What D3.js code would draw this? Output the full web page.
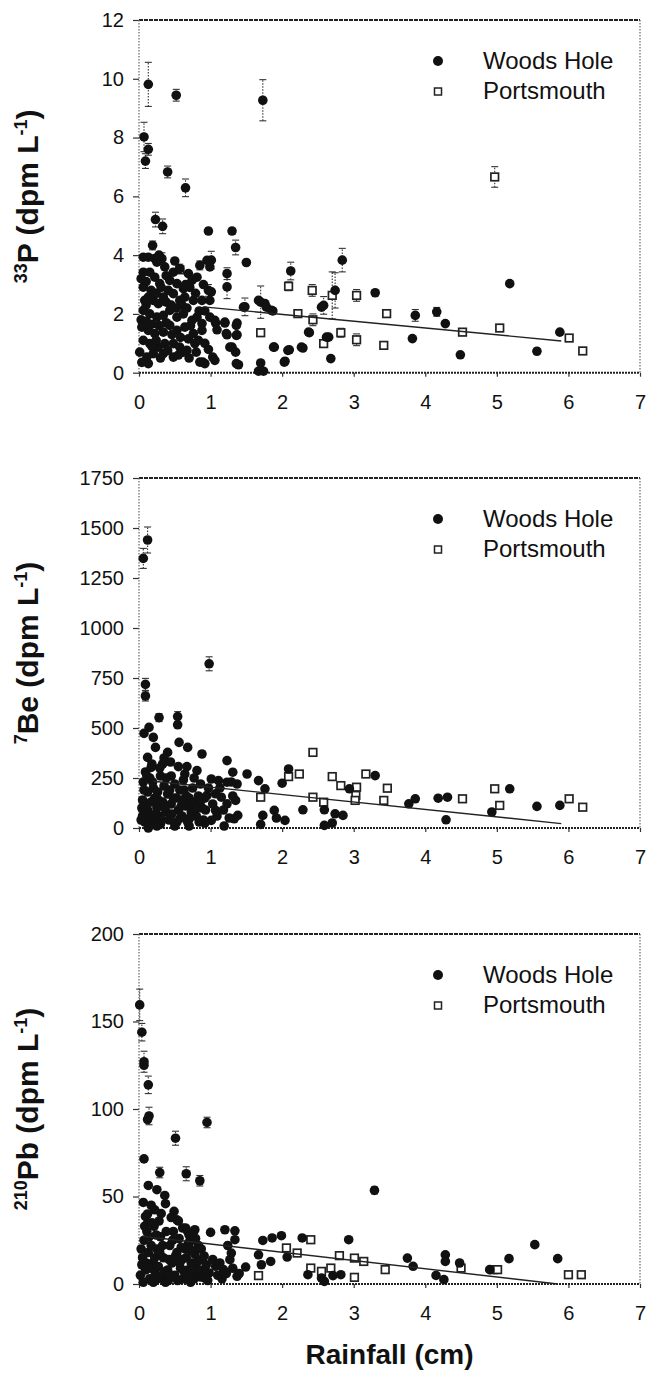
<!DOCTYPE html>
<html>
<head>
<meta charset="utf-8">
<script src="https://cdn.jsdelivr.net/npm/d3@7"></script>
<style>
  body { margin: 0; background: #fff; }
  svg { display: block; }
  text { font-family: "Liberation Sans", Arial, Helvetica, sans-serif; fill: #111; }
</style>
</head>
<body>
<svg id="chart" width="646" height="1373"></svg>
<script>
// ---- shared x axis -------------------------------------------------------
const rainfallTicks = [0, 1, 2, 3, 4, 5, 6, 7];

// ---- 33P: [rainfall cm, activity dpm/L, error] ----------------------------
const p33Ticks = [0, 2, 4, 6, 8, 10, 12];
const p33Woods = [
  [0.13,9.81,0.75],[0.52,9.44,0.2],[1.73,9.27,0.7],[0.07,8.02,0.5],[0.13,7.6,0.2],[0.09,7.2,0.25],
  [0.40,6.83,0.2],[0.65,6.29,0.3],[0.23,5.21,0.25],[0.33,4.98,0.25],[0.97,4.82,0.1],[1.30,4.82,0.1],
  [1.35,4.26,0.25],[1.50,3.75,0],[1.01,3.83,0.3],[1.23,3.37,0.2],[1.23,2.92,0.4],[2.12,3.46,0.3],
  [2.84,3.83,0.4],[3.30,2.72,0],[5.18,3.03,0],[2.74,2.80,0.6],[2.58,2.29,0.3],[3.86,1.95,0.2],
  [4.16,2.07,0.15],[4.28,1.67,0],[3.82,1.16,0],[4.49,0.61,0],[5.56,0.73,0],[5.88,1.38,0],
  [1.48,2.24,0.3],[1.70,2.40,0.55],[1.76,2.35,0],[1.87,2.10,0],[1.89,0.87,0],[2.10,0.78,0],
  [2.04,0.39,0],[2.29,0.84,0],[2.38,1.36,0],[2.65,1.21,0],[2.68,0.48,0],[1.70,0.33,0],
  [1.67,0.05,0],[1.74,0.05,0],[1.39,0.27,0],[1.35,0.70,0],[1.30,0.87,0],[1.37,1.29,0],
  [1.37,1.69,0],[1.23,1.29,0],[1.20,1.69,0],[1.07,1.69,0],[1.09,1.46,0],[1.03,0.53,0],
  [1.06,0.42,0],[0.97,0.79,0],[0.89,0.36,0],[1.01,2.75,0],
  [0.19,4.33,0.15],[0.06,3.93,0],[0.13,3.93,0],[0.22,3.88,0],[0.32,3.88,0.2],[0.25,3.76,0],
  [0.06,3.42,0],[0.15,3.42,0],[0.22,3.25,0],[0.29,3.03,0],[0.48,3.42,0],[0.57,3.54,0.15],
  [0.69,3.37,0],[0.85,3.65,0.15],[0.95,3.82,0],[0.43,3.14,0],[0.53,3.03,0],[0.62,2.86,0],
  [0.74,3.14,0],[0.81,3.25,0],[0.99,3.60,0],[0.06,2.91,0],[0.13,2.57,0],[0.08,2.46,0],
  [0.20,2.46,0],[0.27,2.35,0],[0.34,2.57,0],[0.48,2.69,0],[0.57,2.46,0],[0.64,2.57,0],
  [0.76,2.46,0],[0.88,2.46,0],[0.97,2.80,0.2],[0.99,2.46,0],[0.06,2.12,0],[0.15,2.00,0],
  [0.25,1.89,0],[0.34,1.95,0],[0.43,2.12,0],[0.53,1.89,0],[0.62,2.00,0],[0.74,1.78,0],
  [0.81,1.89,0],[0.88,1.67,0],[0.99,1.89,0],[0.04,1.55,0],[0.13,1.44,0],[0.22,1.33,0],
  [0.34,1.38,0],[0.43,1.61,0],[0.53,1.44,0],[0.64,1.55,0],[0.76,1.33,0],[0.88,1.44,0],
  [0.06,1.10,0],[0.15,0.99,0],[0.27,0.87,0],[0.36,0.99,0],[0.48,0.99,0],[0.57,0.87,0],
  [0.67,0.76,0],[0.78,0.99,0],[0.01,0.70,0],[0.11,0.53,0],[0.20,0.65,0],[0.34,0.65,0],
  [0.48,0.53,0],[0.62,0.70,0],[0.13,0.31,0],[0.85,0.36,0],[0.92,0.31,0],[1.06,1.78,0],
  [1.20,1.72,0],[1.22,1.33,0],[1.27,0.87,0],[1.36,1.27,0],[1.36,1.61,0],[1.36,0.31,0],
  [1.46,2.23,0],[1.67,2.46,0],[1.78,2.23,0],[1.85,2.12,0],[1.88,0.87,0],[2.03,0.36,0],
  [2.08,0.76,0],[2.27,0.87,0],[2.37,1.38,0],[2.62,1.21,0],[2.55,2.23,0],
  [0.03,3.20,0],[0.10,3.10,0],[0.17,2.80,0],[0.24,2.70,0],[0.31,2.90,0],[0.38,2.40,0],
  [0.41,2.80,0],[0.45,2.30,0],[0.52,2.20,0],[0.60,2.30,0],[0.67,2.20,0],[0.71,2.90,0],
  [0.79,2.70,0],[0.84,2.10,0],[0.92,2.10,0],[0.03,1.80,0],[0.10,1.75,0],[0.18,1.65,0],
  [0.28,1.60,0],[0.38,1.70,0],[0.46,1.30,0],[0.58,1.20,0],[0.69,1.15,0],[0.72,1.60,0],
  [0.83,1.10,0],[0.92,1.00,0],[0.04,0.35,0],[0.18,0.90,0],[0.24,1.10,0],[0.30,0.50,0],
  [0.40,0.75,0],[0.55,0.60,0],[0.70,0.50,0],[0.80,0.70,0],[0.10,2.30,0],[0.38,3.30,0],
  [0.50,3.80,0],[0.65,3.00,0],[0.90,3.00,0],[0.28,4.00,0],[0.36,3.60,0]
];
const p33Ports = [
  [4.97,6.66,0.35],[2.09,2.94,0.15],[2.42,2.80,0.2],[2.70,2.63,0.8],[3.04,2.63,0.2],[2.22,2.01,0],
  [2.43,1.80,0.2],[3.46,2.01,0],[4.52,1.38,0],[5.04,1.52,0],[6.01,1.18,0],[6.20,0.74,0],
  [3.42,0.93,0],[2.58,0.99,0],[2.82,1.36,0.15],[3.04,1.12,0.2],[1.70,1.36,0.1],[0.57,3.50,0.1]
];
const p33Trend = [[0.9, 2.24], [5.9, 1.08]];

// ---- 7Be -----------------------------------------------------------------
const be7Ticks = [0, 250, 500, 750, 1000, 1250, 1500, 1750];
const be7Woods = [
  [0.06,1348,50],[0.12,1440,65],[0.09,718,30],[0.09,660,25],[0.98,821,35],[0.07,473,0],
  [0.14,503,0],[0.28,552,20],[0.54,557,25],[0.54,516,0],[0.56,428,0],[0.68,403,0],
  [0.23,403,0],[0.20,453,15],[0.40,378,0],[0.88,370,0],[0.33,320,0],[1.23,337,0],
  [0.12,353,0],[0.17,303,0],[0.55,307,0],[0.67,307,0],[0.81,287,0],[2.09,295,0],
  [1.31,279,0],[1.51,270,0],[3.30,262,0],[1.67,237,0],[1.76,196,0],[2.00,224,0],
  [1.01,245,0],[1.11,237,0],[1.23,229,0],[1.37,220,0],[2.94,196,0],[5.18,196,0],
  [3.86,146,0],[3.77,121,0],[4.18,149,0],[4.31,154,0],[5.56,108,0],[5.88,113,0],
  [4.93,80,0],[4.29,41,0],[2.59,91,0],[2.74,71,0],[2.85,63,0],[2.29,91,0],
  [1.89,88,0],[1.92,50,0],[2.04,38,0],[1.73,63,0],[1.70,18,0],[2.59,13,0],
  [2.70,25,0],[1.35,138,0],[1.38,63,0],[1.33,46,0],[1.23,121,0],[1.07,88,0],
  [1.01,38,0],[0.92,25,0],[1.15,154,0],[0.95,163,0],[1.07,171,0],
  [0.05,60,0],[0.08,30,0],[0.10,120,0],[0.12,180,0],[0.06,230,0],[0.09,280,0],
  [0.15,250,0],[0.18,320,0],[0.20,200,0],[0.22,150,0],[0.25,100,0],[0.28,60,0],
  [0.30,20,0],[0.33,130,0],[0.35,210,0],[0.38,80,0],[0.40,170,0],[0.42,40,0],
  [0.45,120,0],[0.50,220,0],[0.52,150,0],[0.55,90,0],[0.58,50,0],[0.60,140,0],
  [0.63,190,0],[0.65,110,0],[0.68,30,0],[0.70,150,0],[0.73,80,0],[0.75,200,0],
  [0.78,130,0],[0.80,60,0],[0.83,160,0],[0.86,220,0],[0.88,100,0],[0.90,40,0],
  [0.92,150,0],[0.25,10,0],[0.15,40,0],[0.12,90,0],[0.30,260,0],[0.45,260,0],
  [0.60,60,0],[0.50,10,0],[0.70,10,0],[0.35,350,0],[0.20,30,0],[0.05,140,0],[0.03,40,0],
  [0.04,100,0],[0.07,190,0],[0.11,260,0],[0.14,60,0],[0.17,130,0],[0.19,230,0],
  [0.23,70,0],[0.26,180,0],[0.29,300,0],[0.32,40,0],[0.36,100,0],[0.38,250,0],
  [0.43,190,0],[0.46,70,0],[0.48,150,0],[0.53,30,0],[0.57,190,0],[0.59,110,0],
  [0.62,240,0],[0.66,160,0],[0.71,50,0],[0.74,120,0],[0.77,250,0],[0.81,100,0],
  [0.84,30,0],[0.87,140,0],[0.93,90,0],[0.97,200,0],[1.03,120,0],[1.09,60,0],
  [1.13,200,0],[1.18,90,0],[1.26,50,0],[1.29,230,0],[1.31,160,0],[1.19,10,0],
  [0.13,0,0],[0.27,140,0],[0.44,330,0],[0.64,270,0]
];
const be7Ports = [
  [2.43,378,15],[2.09,257,0],[2.24,270,0],[2.70,257,0],[2.82,212,0],[3.04,204,0],
  [3.17,270,0],[3.47,199,0],[3.03,163,0],[3.02,138,0],[3.42,138,0],[2.43,154,0],
  [1.70,154,0],[2.58,129,0],[4.52,146,0],[4.97,196,0],[5.04,113,0],[6.01,146,0],[6.20,104,0]
];
const be7Trend = [[0.2, 234], [5.9, 22]];

// ---- 210Pb ---------------------------------------------------------------
const pb210Ticks = [0, 50, 100, 150, 200];
const pb210Woods = [
  [0.01,159.5,9],[0.04,143.9,5],[0.07,127,6],[0.07,125,0],[0.13,113.8,5],[0.14,96,5],
  [0.12,94,0],[0.07,71.5,0],[0.29,63.7,3],[0.51,83.3,4],[0.95,92.3,3],[0.66,63,4],
  [0.85,59,3],[0.13,56.3,0],[0.25,53.9,0],[0.36,50.6,0],[0.37,45.9,0],[0.06,46.6,0],
  [3.29,53.5,2],[0.49,41.5,0],[0.53,36.7,0],[0.31,40.2,0],[0.22,42.4,0],[0.09,38.6,0],
  [0.12,34.8,0],[0.65,32,0],[0.78,31,0],[1.00,29.5,0],[1.20,31,0],[1.34,30.4,0],
  [1.34,25.3,0],[0.69,23.4,0],[0.72,19.6,0],[1.73,24.9,0],[1.86,26.3,0],[1.99,27.6,0],
  [2.28,26.3,0],[2.93,25.3,0],[5.53,22.5,0],[5.85,14.5,0],[5.17,14.5,0],[3.75,14.8,0],
  [3.83,10.1,0],[4.28,16.7,0],[4.28,12.9,0],[4.48,12,0],[4.15,4.9,0],[4.26,2.5,0],
  [4.90,8.2,0],[2.07,15.4,0],[1.84,12.9,0],[1.67,16.7,0],[1.71,11,0],[1.49,9.7,0],
  [1.29,17.7,0],[1.27,13.9,0],[1.37,4.4,0],[1.18,8.2,0],[1.07,10.1,0],[0.98,6.3,0],
  [0.92,3.4,0],[2.36,5.3,0],[2.55,3.4,0],[2.59,1.5,0],[2.71,4.8,0],[2.82,5.3,0],
  [0.02,5,0],[0.05,15,0],[0.07,25,0],[0.09,8,0],[0.11,30,0],[0.13,18,0],[0.15,3,0],
  [0.17,22,0],[0.19,12,0],[0.21,33,0],[0.23,6,0],[0.25,20,0],[0.27,10,0],[0.30,27,0],
  [0.32,4,0],[0.34,15,0],[0.37,1,0],[0.40,8,0],[0.43,22,0],[0.46,12,0],[0.48,30,0],
  [0.50,5,0],[0.53,18,0],[0.56,26,0],[0.58,9,0],[0.60,14,0],[0.62,3,0],[0.65,20,0],
  [0.68,8,0],[0.70,28,0],[0.73,12,0],[0.75,5,0],[0.78,17,0],[0.80,9,0],[0.83,22,0],
  [0.86,4,0],[0.88,14,0],[0.90,7,0],[0.94,11,0],[0.06,1,0],[0.20,1,0],[0.28,36,0],
  [0.41,2,0],[0.55,36,0],[0.72,1,0],[0.12,40,0],
  [0.03,20,0],[0.08,33,0],[0.10,12,0],[0.14,27,0],[0.16,9,0],[0.18,35,0],[0.22,15,0],
  [0.24,28,0],[0.26,3,0],[0.29,18,0],[0.33,22,0],[0.36,7,0],[0.38,30,0],[0.42,14,0],
  [0.44,5,0],[0.47,25,0],[0.51,16,0],[0.54,2,0],[0.57,12,0],[0.59,21,0],[0.63,7,0],
  [0.66,15,0],[0.69,3,0],[0.71,24,0],[0.74,19,0],[0.77,3,0],[0.79,26,0],[0.82,13,0],
  [0.85,8,0],[0.87,20,0],[0.91,16,0],[0.96,2,0],[1.03,14,0],[1.10,5,0],[1.13,12,0],
  [1.16,3,0],[1.22,6,0],[1.24,22,0],[1.31,9,0],[1.40,6,0],[0.04,11,0],[0.17,45,0],
  [0.45,38,0],[0.61,32,0],[0.68,30,0],[0.76,30,0]
];
const pb210Ports = [
  [2.40,25.3,0],[2.06,20.6,0],[2.21,17.7,0],[2.80,16.2,0],[3.01,14.8,0],[3.14,12.9,0],
  [3.44,8.2,0],[2.40,9.1,0],[2.55,7.2,0],[2.68,9.1,0],[3.01,3.8,0],[1.67,4.8,0],
  [4.50,9.1,0],[4.95,8.2,0],[5.01,8.2,0],[6.00,5.3,0],[6.18,5.3,0]
];
const pb210Trend = [[0.05, 27.3], [5.85, 0]];

const seriesNames = ["Woods Hole", "Portsmouth"];

// ---- layout --------------------------------------------------------------
const plotLeft = 139, plotRight = 640;
const panels = [
  { top: 20,  bottom: 372.7, max: 12,   ticks: p33Ticks,   woods: p33Woods,   ports: p33Ports,   trend: p33Trend,   iso: "33",  el: "P" },
  { top: 478, bottom: 828,   max: 1750, ticks: be7Ticks,   woods: be7Woods,   ports: be7Ports,   trend: be7Trend,   iso: "7",   el: "Be" },
  { top: 934, bottom: 1284,  max: 200,  ticks: pb210Ticks, woods: pb210Woods, ports: pb210Ports, trend: pb210Trend, iso: "210", el: "Pb" }
];

const svg = d3.select("#chart");
const x = d3.scaleLinear().domain([0, 7]).range([plotLeft, plotRight]);

panels.forEach(p => {
  const y = d3.scaleLinear().domain([0, p.max]).range([p.bottom, p.top]);
  const g = svg.append("g");

  // y axis ticks and labels
  const ya = g.append("g").attr("transform", `translate(${plotLeft},0)`)
    .call(d3.axisLeft(y).tickValues(p.ticks).tickSize(6).tickPadding(9).tickFormat(d3.format("d")));
  ya.select(".domain").remove();
  ya.selectAll("line").attr("stroke", "#333").attr("stroke-width", 1.2);
  ya.selectAll("text").attr("font-size", 20).attr("fill", "#111")
    .attr("font-family", "'Liberation Sans', Arial, sans-serif");

  // x axis ticks and labels
  const xa = g.append("g").attr("transform", `translate(0,${p.bottom})`)
    .call(d3.axisBottom(x).tickValues(rainfallTicks).tickSize(4).tickPadding(18).tickFormat(d3.format("d")));
  xa.select(".domain").remove();
  xa.selectAll("line").attr("stroke", "#333").attr("stroke-width", 1.2);
  xa.selectAll("text").attr("font-size", 20).attr("fill", "#111")
    .attr("font-family", "'Liberation Sans', Arial, sans-serif");

  // frame: heavy top and bottom rules, light dotted sides
  const [x0, x1] = x.range();
  g.append("line").attr("x1", x0).attr("x2", x1).attr("y1", p.top).attr("y2", p.top)
    .attr("stroke", "#222").attr("stroke-width", 2).attr("stroke-dasharray", "4,1");
  g.append("line").attr("x1", x0).attr("x2", x1).attr("y1", p.bottom).attr("y2", p.bottom)
    .attr("stroke", "#222").attr("stroke-width", 2).attr("stroke-dasharray", "2,1");
  [x0, x1].forEach(xx => g.append("line").attr("x1", xx).attr("x2", xx).attr("y1", p.top).attr("y2", p.bottom)
    .attr("stroke", "#666").attr("stroke-width", 1.2).attr("stroke-dasharray", "1.5,1.5"));

  // error bars
  const withErr = p.woods.concat(p.ports).filter(d => d[2] > 0);
  const eb = g.append("g").attr("stroke", "#333").attr("stroke-width", 1.1);
  withErr.forEach(d => {
    const cx = x(d[0]), yl = y(Math.max(0, d[1] - d[2])), yh = y(d[1] + d[2]);
    eb.append("line").attr("x1", cx).attr("x2", cx).attr("y1", yl).attr("y2", yh).attr("stroke-dasharray", "1.5,1.5");
    eb.append("line").attr("x1", cx - 3.5).attr("x2", cx + 3.5).attr("y1", yh).attr("y2", yh);
    eb.append("line").attr("x1", cx - 3.5).attr("x2", cx + 3.5).attr("y1", yl).attr("y2", yl);
  });

  // Portsmouth: open squares
  g.append("g").selectAll("rect").data(p.ports).join("rect")
    .attr("x", d => x(d[0]) - 3.8).attr("y", d => y(d[1]) - 3.8)
    .attr("width", 7.6).attr("height", 7.6)
    .attr("fill", "#fff").attr("stroke", "#222").attr("stroke-width", 1.7);

  // Woods Hole: filled circles
  g.append("g").selectAll("circle").data(p.woods).join("circle")
    .attr("cx", d => x(d[0])).attr("cy", d => y(d[1])).attr("r", 4.8)
    .attr("fill", "#111");

  // regression line
  g.append("path").datum(p.trend)
    .attr("d", d3.line().x(d => x(d[0])).y(d => y(d[1])))
    .attr("fill", "none").attr("stroke", "#222").attr("stroke-width", 1.4);

  // legend
  const lx = 438, tx = 483;
  g.append("circle").attr("cx", lx).attr("cy", p.top + 41).attr("r", 5).attr("fill", "#111");
  g.append("rect").attr("x", lx - 3.5).attr("y", p.top + 68).attr("width", 7).attr("height", 7)
    .attr("fill", "#fff").attr("stroke", "#222").attr("stroke-width", 1.5);
  g.append("text").attr("x", tx).attr("y", p.top + 49).attr("font-size", 24).text(seriesNames[0]);
  g.append("text").attr("x", tx).attr("y", p.top + 79).attr("font-size", 24).text(seriesNames[1]);

  // y axis title with superscripts
  const cy = (p.top + p.bottom) / 2;
  const t = g.append("text").attr("transform", `translate(38,${cy}) rotate(-90)`)
    .attr("text-anchor", "middle").attr("font-size", 30).attr("font-weight", "bold");
  t.append("tspan").attr("font-size", 18).attr("dy", -11).text(p.iso);
  t.append("tspan").attr("dy", 11).text(p.el + " (dpm L");
  t.append("tspan").attr("font-size", 18).attr("dy", -11).text("-1");
  t.append("tspan").attr("dy", 11).text(")");
});

// shared x axis title
svg.append("text").attr("x", (plotLeft + plotRight) / 2).attr("y", 1364)
  .attr("text-anchor", "middle").attr("font-size", 28).attr("font-weight", "bold")
  .text("Rainfall (cm)");
</script>
</body>
</html>
